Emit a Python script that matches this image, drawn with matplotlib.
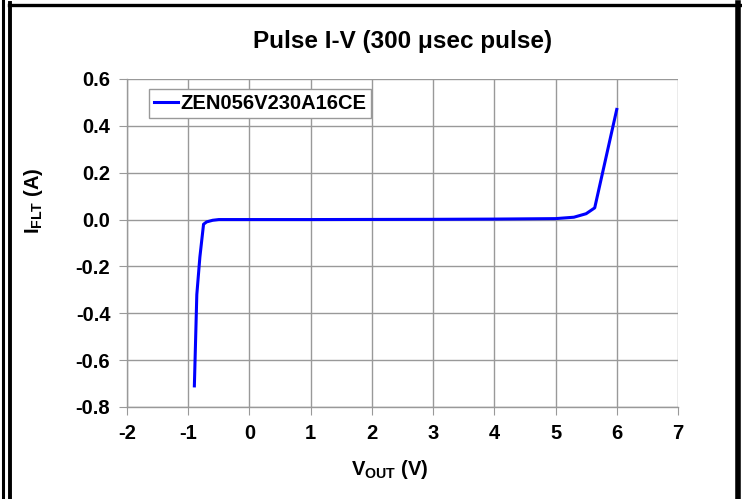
import matplotlib
matplotlib.use('Agg')
import matplotlib.pyplot as plt
from matplotlib.lines import Line2D

# Dane
v_out = [-0.9, -0.86, -0.81, -0.75, -0.7, -0.6, -0.5, 0, 1, 2, 3, 4, 5, 5.3, 5.5, 5.64, 5.76, 6.0]
i_flt = [-0.71, -0.32, -0.16, -0.02, -0.01, -0.003, 0.0, 0.0, 0.0, 0.0005, 0.001, 0.002, 0.004,
         0.01, 0.025, 0.05, 0.19, 0.47]
x_ticks = list(range(-2, 8))
y_ticks = [-0.8, -0.6, -0.4, -0.2, 0.0, 0.2, 0.4, 0.6]

plt.rcParams['font.family'] = ['Liberation Sans', 'DejaVu Sans']
plt.rcParams['font.weight'] = 'bold'
plt.rcParams['mathtext.fontset'] = 'custom'
plt.rcParams['mathtext.rm'] = 'Liberation Sans:bold'
plt.rcParams['mathtext.bf'] = 'Liberation Sans:bold'

fig = plt.figure(figsize=(7.42, 4.99), dpi=100)
ax = fig.add_axes([0.1712, 0.1844, 0.7425, 0.6573])

ax.plot(v_out, i_flt, color='#0000ff', linewidth=2.2, label='ZEN056V230A16CE')

ax.set_xlim(-2, 7)
ax.set_ylim(-0.8, 0.6)
ax.set_xticks(x_ticks)
ax.set_yticks(y_ticks)
ax.set_xticklabels([str(t) for t in x_ticks])
ax.set_yticklabels(['%.1f' % t for t in y_ticks])
ax.grid(True, color='#999999', linewidth=1.0)
ax.set_axisbelow(True)
for s in ['top', 'right']:
    ax.spines[s].set_visible(False)
for s in ['left', 'bottom']:
    ax.spines[s].set_color('#999999')
    ax.spines[s].set_linewidth(1.0)
ax.tick_params(direction='out', length=6, color='#999999', labelsize=14.5, pad=6)
for lbl in ax.get_xticklabels() + ax.get_yticklabels():
    lbl.set_fontweight('bold')

ax.set_title('Pulse I-V (300 μsec pulse)', fontsize=17.5, fontweight='bold', pad=22)
ax.set_xlabel(r'V$_{\mathrm{OUT}}$ (V)', fontsize=14.5, fontweight='bold')
ax.set_ylabel(r'I$_{\mathrm{FLT}}$ (A)', fontsize=14.5, fontweight='bold')
ax.xaxis.set_label_coords(0.477, -0.155)
ax.yaxis.set_label_coords(-0.149, 0.628)

leg = ax.legend(loc='upper left', bbox_to_anchor=(0.04, 0.97), fontsize=14.5,
                frameon=True, fancybox=False, handlelength=1.2, handletextpad=0.1,
                borderpad=0.25, borderaxespad=0, framealpha=1)
leg.get_frame().set_edgecolor('#999999')
leg.get_frame().set_linewidth(1.0)
for t in leg.get_texts():
    t.set_fontweight('bold')

# Ramka wokol obrazka
W, H = 742, 499
def fx(px):
    return px / W
def fy(py):
    return 1 - py / H
fig.add_artist(Line2D([fx(3.3), fx(3.3)], [0, 1], color='black', linewidth=2.2, transform=fig.transFigure))
fig.add_artist(Line2D([fx(10), fx(10)], [0, fy(3)], color='black', linewidth=2.8, transform=fig.transFigure))
fig.add_artist(Line2D([fx(8.5), fx(742)], [fy(4.5), fy(4.5)], color='black', linewidth=2.4, transform=fig.transFigure))
fig.add_artist(Line2D([fx(737.5), fx(737.5)], [0, fy(3)], color='black', linewidth=4.0, transform=fig.transFigure))

fig.savefig('out.png', dpi=100)
